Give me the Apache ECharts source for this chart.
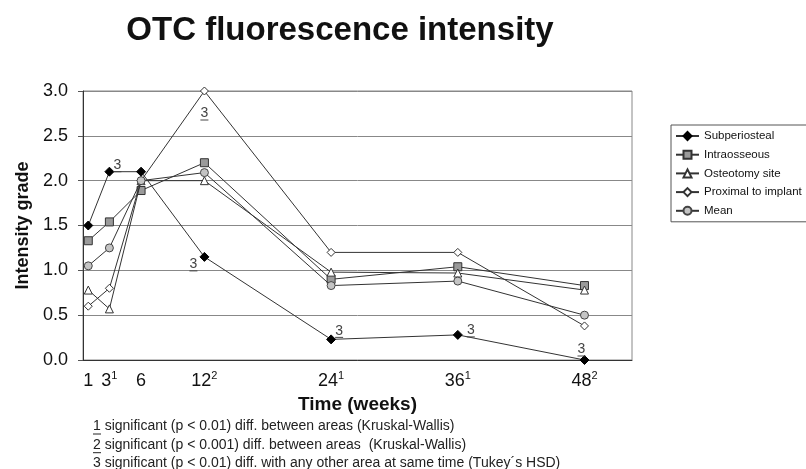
<!DOCTYPE html>
<html>
<head>
<meta charset="utf-8">
<script src="https://cdn.jsdelivr.net/npm/echarts@6/dist/echarts.min.js"></script>
<style>
html,body{margin:0;padding:0;background:#fff;}
#chart{width:806px;height:469px;}
</style>
</head>
<body>
<div id="chart"></div>
<script>
// ---- data ----
const weeks = [1, 3, 6, 12, 24, 36, 48];
const tickSup = ['', '1', '', '2', '1', '1', '2'];
const seriesNames = ['Subperiosteal', 'Intraosseous', 'Osteotomy site', 'Proximal to implant', 'Mean'];
const subperiosteal = [1.5, 2.1, 2.1, 1.15, 0.23, 0.28, 0.0];
const intraosseous = [1.33, 1.54, 1.89, 2.2, 0.9, 1.04, 0.83];
const osteotomy = [0.78, 0.57, 2.0, 2.0, 0.98, 0.97, 0.78];
const proximal = [0.6, 0.8, 2.0, 3.0, 1.2, 1.2, 0.38];
const meanVals = [1.05, 1.25, 2.0, 2.09, 0.83, 0.88, 0.5];
// significance marks: [series index, week, mark]
const sigMarks = [[0, 3, '3'], [0, 12, '3'], [3, 12, '3'], [0, 24, '3'], [0, 36, '3'], [0, 48, '3']];
const footnotes = [
  ['1', ' significant (p < 0.01) diff. between areas (Kruskal-Wallis)'],
  ['2', ' significant (p < 0.001) diff. between areas  (Kruskal-Wallis)'],
  ['3', ' significant (p < 0.01) diff. with any other area at same time (Tukey\u00b4s HSD)']
];

// ---- styling (not data) ----
const markOffsets = {'0-3': [8, -6], '0-12': [-11, 8], '3-12': [0, 23], '0-24': [8, -8], '0-36': [13, -4], '0-48': [-3, -10]};
const styles = [
  {symbol: 'diamond', size: 9, fill: '#000', border: '#000'},
  {symbol: 'rect', size: 8, fill: '#9a9a9a', border: '#333'},
  {symbol: 'triangle', size: 8, fill: '#fff', border: '#333'},
  {symbol: 'diamond', size: 8, fill: '#fff', border: '#333'},
  {symbol: 'circle', size: 8, fill: '#c4c4c4', border: '#444'}
];
const allVals = [subperiosteal, intraosseous, osteotomy, proximal, meanVals];
const FONT = '"Liberation Sans", Arial, sans-serif';

const series = allVals.map((vals, si) => {
  const st = styles[si];
  return {
    name: seriesNames[si],
    type: 'line',
    symbol: st.symbol,
    symbolSize: st.size,
    z: 3 + si,
    lineStyle: {color: '#333', width: 1},
    itemStyle: {color: st.fill, borderColor: st.border, borderWidth: 1},
    emphasis: {disabled: true},
    data: vals.map((v, i) => {
      const item = {value: [weeks[i], v]};
      const m = sigMarks.find(s => s[0] === si && s[1] === weeks[i]);
      if (m) {
        item.label = {
          show: true, position: 'inside',
          formatter: '{d|' + m[2] + '}\n{u| }',
          offset: markOffsets[si + '-' + weeks[i]],
          rich: {
            d: {fontSize: 14, color: '#444', fontFamily: FONT, lineHeight: 12},
            u: {width: 8, height: 1, lineHeight: 1, fontSize: 1, backgroundColor: '#444'}
          }
        };
      }
      return item;
    })
  };
});

const graphics = [];
footnotes.forEach((f, i) => {
  const top = 419 + i * 18.7;
  graphics.push({
    type: 'text', left: 93, top: top, z: 10,
    style: {text: f[0] + f[1], fill: '#222', font: '14px ' + FONT}
  });
  graphics.push({
    type: 'line', z: 10,
    shape: {x1: 93, y1: top + 15, x2: 101, y2: top + 15},
    style: {stroke: '#222', lineWidth: 1}
  });
});

const chart = echarts.init(document.getElementById('chart'), null, {renderer: 'canvas'});
chart.setOption({
  animation: false,
  backgroundColor: '#fff',
  title: {
    text: 'OTC fluorescence intensity',
    left: 340, top: 14, textAlign: 'center', padding: 0,
    textStyle: {fontSize: 33, fontWeight: 'bold', color: '#111', fontFamily: FONT}
  },
  legend: {
    orient: 'vertical',
    left: 671, top: 125,
    padding: [5, 12, 5, 4],
    itemWidth: 23, itemHeight: 10, itemGap: 6.7,
    borderColor: '#555', borderWidth: 1,
    data: seriesNames,
    textStyle: {fontSize: 11.5, color: '#111', fontFamily: FONT}
  },
  grid: {left: 83, right: 174, top: 91, bottom: 109, show: true, borderColor: '#888', borderWidth: 1, outerBoundsMode: 'none'},
  xAxis: {
    type: 'value', min: 0.5, max: 52.5,
    name: 'Time (weeks)', nameLocation: 'middle', nameGap: 33,
    nameTextStyle: {fontSize: 19, fontWeight: 'bold', color: '#111', fontFamily: FONT},
    axisLine: {lineStyle: {color: '#333'}},
    axisTick: {show: false},
    splitLine: {show: false},
    axisLabel: {
      customValues: weeks,
      margin: 10,
      formatter: v => {
        const i = weeks.indexOf(v);
        return '{n|' + v + '}' + (tickSup[i] ? '{s|' + tickSup[i] + '}' : '');
      },
      rich: {
        n: {fontSize: 18, color: '#111', fontFamily: FONT, lineHeight: 22},
        s: {fontSize: 11, color: '#111', fontFamily: FONT, lineHeight: 12, verticalAlign: 'top'}
      }
    }
  },
  yAxis: {
    type: 'value', min: 0, max: 3, interval: 0.5,
    name: 'Intensity grade', nameLocation: 'middle', nameGap: 51,
    nameTextStyle: {fontSize: 18, fontWeight: 'bold', color: '#111', fontFamily: FONT},
    axisLine: {show: true, lineStyle: {color: '#333'}},
    axisTick: {show: true, length: 5, lineStyle: {color: '#555'}},
    splitLine: {lineStyle: {color: '#888', width: 1}},
    axisLabel: {
      margin: 15, fontSize: 18, color: '#111', fontFamily: FONT,
      formatter: v => v.toFixed(1)
    }
  },
  graphic: graphics,
  series: series
});
</script>
</body>
</html>
